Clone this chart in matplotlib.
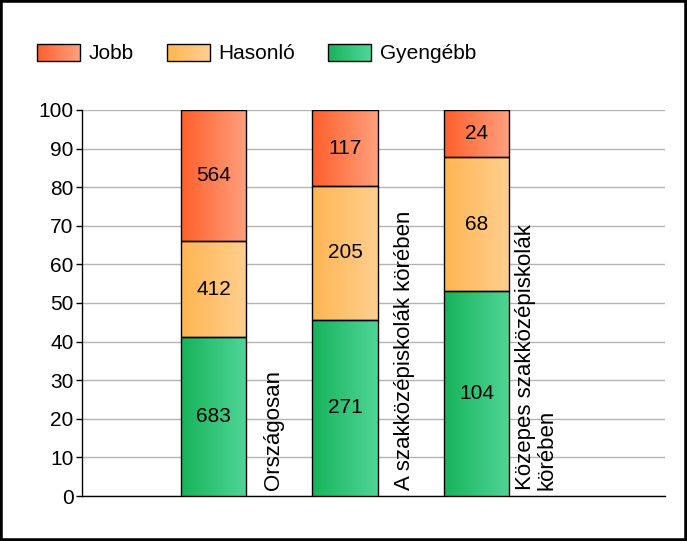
import matplotlib
matplotlib.use("Agg")
import matplotlib.pyplot as plt
import numpy as np
from matplotlib.colors import LinearSegmentedColormap
from matplotlib.patches import Rectangle
from matplotlib.legend_handler import HandlerBase

plt.rcParams['font.family'] = ['Liberation Sans', 'DejaVu Sans']

categories = ["Országosan", "A szakközépiskolák körében", "Közepes szakközépiskolák\nkörében"]
series_names = ["Jobb", "Hasonló", "Gyengébb"]
jobb = [564, 117, 24]
hasonlo = [412, 205, 68]
gyengebb = [683, 271, 104]
yticks = [0, 10, 20, 30, 40, 50, 60, 70, 80, 90, 100]

# gradient colours (left -> right)
grad = {
    "Jobb": ("#ff5f2c", "#ffa07e"),
    "Hasonló": ("#ffb552", "#ffcf8f"),
    "Gyengébb": ("#17b35a", "#4fd597"),
}

FS = 15


class GradientHandler(HandlerBase):
    def __init__(self, c0, c1):
        super().__init__()
        self.cmap = LinearSegmentedColormap.from_list("g", [c0, c1])

    def create_artists(self, legend, orig_handle, xdescent, ydescent,
                       width, height, fontsize, trans):
        n = 30
        arts = []
        for i in range(n):
            r = Rectangle((-xdescent + width * i / n, -ydescent), width / n + 0.3, height,
                          facecolor=self.cmap(i / (n - 1)), edgecolor='none', transform=trans)
            arts.append(r)
        arts.append(Rectangle((-xdescent, -ydescent), width, height, facecolor='none',
                              edgecolor='black', linewidth=1, transform=trans))
        return arts


fig = plt.figure(figsize=(6.87, 5.41), dpi=100)
ax = fig.add_axes([82 / 687, 45 / 541, 583 / 687, 386 / 541])

totals = np.array(jobb) + np.array(hasonlo) + np.array(gyengebb)
x = np.arange(1, len(categories) + 1)
bottom = np.zeros(len(categories))
data = [("Gyengébb", gyengebb), ("Hasonló", hasonlo), ("Jobb", jobb)]
for name, vals in data:
    pct = np.array(vals) / totals * 100
    bars = ax.bar(x, pct, width=0.5, bottom=bottom, facecolor='none',
                  edgecolor='black', linewidth=1, zorder=4)
    cmap = LinearSegmentedColormap.from_list(name, grad[name])
    for b, v in zip(bars, vals):
        x0, y0 = b.get_x(), b.get_y()
        ax.imshow(np.linspace(0, 1, 100).reshape(1, -1), cmap=cmap, aspect='auto',
                  extent=(x0, x0 + b.get_width(), y0, y0 + b.get_height()),
                  zorder=3, interpolation='bilinear')
        ax.text(x0 + b.get_width() / 2, y0 + b.get_height() / 2, str(v),
                ha='center', va='center', fontsize=FS, zorder=5)
    bottom += pct

for xi, cat in zip(x, categories):
    ax.text(xi + 0.455, 1.6, cat, rotation=90, ha='center', va='bottom',
            multialignment='left', fontsize=16, linespacing=1.05)

ax.set_xlim(0, 583 / 131.5)
ax.set_ylim(0, 100)
ax.set_yticks(yticks)
ax.tick_params(axis='y', labelsize=FS, length=4, width=1, pad=2)
ax.set_xticks([])
ax.grid(axis='y', color='#b4b4b4', linewidth=1, zorder=0)
ax.set_axisbelow(True)
for s in ['top', 'right']:
    ax.spines[s].set_visible(False)
ax.spines['left'].set_linewidth(1)
ax.spines['bottom'].set_linewidth(1)

handles = [Rectangle((0, 0), 1, 1) for _ in series_names]
hmap = {h: GradientHandler(*grad[n]) for h, n in zip(handles, series_names)}
fig.legend(handles, series_names, handler_map=hmap, loc='center left',
           bbox_to_anchor=(37 / 687, 1 - 53.5 / 541), ncol=3, frameon=False,
           fontsize=FS, handlelength=2.07, handleheight=0.91, handletextpad=0.43,
           columnspacing=1.55, borderpad=0, borderaxespad=0)

fig.patches.append(Rectangle((0, 0), 1, 1, transform=fig.transFigure, fill=False,
                             edgecolor='black', linewidth=4, zorder=10))

fig.savefig("out.png", dpi=100)
